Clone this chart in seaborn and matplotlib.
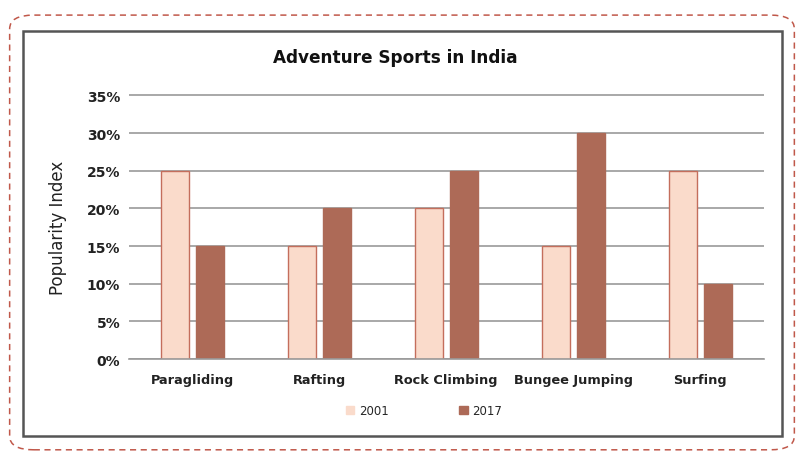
import matplotlib
matplotlib.use("Agg")
import matplotlib.pyplot as plt
from matplotlib.patches import FancyBboxPatch, Rectangle
import seaborn as sns
import pandas as pd

# chart data
sports = ["Paragliding", "Rafting", "Rock Climbing", "Bungee Jumping", "Surfing"]
years = ["2001", "2017"]
pop_2001 = [25, 15, 20, 15, 25]
pop_2017 = [15, 20, 25, 30, 10]
y_ticks = [0, 5, 10, 15, 20, 25, 30, 35]

df = pd.DataFrame({
    "Sport": sports * 2,
    "Year": [years[0]] * len(sports) + [years[1]] * len(sports),
    "Popularity": pop_2001 + pop_2017,
})

sns.set_theme(style="white")
plt.rcParams["font.family"] = ["DejaVu Sans"]

light = "#FADBCB"
dark = "#AD6A57"

fig = plt.figure(figsize=(8.04, 4.60), dpi=100)

# outer dashed rounded frame and inner solid frame
outer = FancyBboxPatch((0.012, 0.02), 0.976, 0.945,
                       boxstyle="round,pad=0,rounding_size=0.03",
                       transform=fig.transFigure, fill=False,
                       edgecolor="#C0584A", linestyle=(0, (4, 3)), linewidth=1.1)
fig.patches.append(outer)
inner = Rectangle((0.029, 0.05), 0.944, 0.88, transform=fig.transFigure,
                  fill=False, edgecolor="#555555", linewidth=1.8)
fig.patches.append(inner)

ax = fig.add_axes([0.16, 0.217, 0.79, 0.576])
sns.barplot(data=df, x="Sport", y="Popularity", hue="Year",
            palette=[light, dark], saturation=1, width=0.55, gap=0.2,
            edgecolor="#C46E5C", linewidth=1.0, ax=ax)

# dark bars have edge same as fill
for patch in ax.patches:
    if matplotlib.colors.to_hex(patch.get_facecolor()).upper() == dark:
        patch.set_edgecolor(dark)

ax.set_ylim(0, 35.15)
ax.set_yticks(y_ticks)
ax.set_yticklabels([f"{t}%" for t in y_ticks], fontweight="bold", fontsize=10, color="#222222")
ax.set_xlim(-0.5, len(sports) - 0.5)
ax.tick_params(axis="x", labelsize=9.3, colors="#222222", pad=4)
for lbl in ax.get_xticklabels():
    lbl.set_fontweight("bold")
ax.tick_params(axis="y", pad=6, length=0)
ax.yaxis.grid(True, color="#9A9A9A", linewidth=1.2)
ax.set_axisbelow(True)
for s in ["top", "right", "left"]:
    ax.spines[s].set_visible(False)
ax.spines["bottom"].set_color("#9A9A9A")
ax.spines["bottom"].set_linewidth(1.2)

ax.set_xlabel("")
ax.set_ylabel("Popularity Index", fontsize=12, color="#222222", labelpad=14)
fig.text(0.492, 0.873, "Adventure Sports in India", ha="center", va="center",
         fontsize=12.2, fontweight="bold", color="#111111")

ax.legend(loc="upper center", bbox_to_anchor=(0.465, -0.13), ncol=2, frameon=False,
          fontsize=8.5, handlelength=0.7, handleheight=0.7, columnspacing=6,
          handletextpad=0.4)
for h in ax.get_legend().legend_handles:
    h.set_edgecolor(h.get_facecolor())

fig.savefig("out.png", dpi=100)
